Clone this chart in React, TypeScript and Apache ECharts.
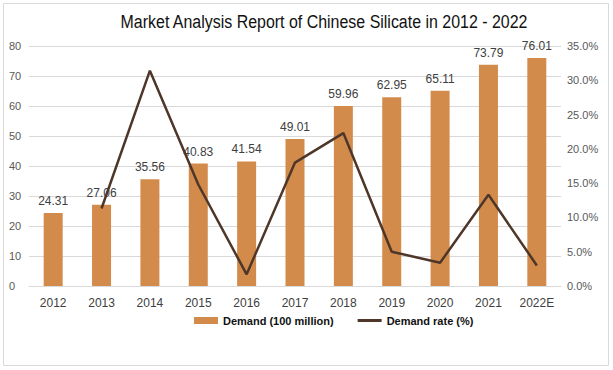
import React, { useEffect, useRef } from "react";
import * as echarts from "echarts";

const categories = ["2012", "2013", "2014", "2015", "2016", "2017", "2018", "2019", "2020", "2021", "2022E"];
const demand = [24.31, 27.06, 35.56, 40.83, 41.54, 49.01, 59.96, 62.95, 65.11, 73.79, 76.01];
const demandRate = [null, 0.113, 0.314, 0.148, 0.017, 0.18, 0.223, 0.05, 0.034, 0.133, 0.03];

export default function App() {
  const ref = useRef<HTMLDivElement>(null);
  useEffect(() => {
    if (!ref.current) return;
    const chart = echarts.init(ref.current, null, { renderer: "svg" });
    const font = "'Liberation Sans', Arial, sans-serif";
    chart.setOption({
      animation: false,
      backgroundColor: "#fff",
      graphic: [
        {
          type: "rect",
          shape: { x: 3.5, y: 3.5, width: 605, height: 362 },
          style: { fill: "none", stroke: "#d9d9d9", lineWidth: 1 },
          silent: true,
        },
        {
          type: "text",
          x: 324,
          y: 22,
          scaleX: 0.84,
          style: {
            text: "Market Analysis Report of Chinese Silicate in 2012 - 2022",
            fontFamily: font,
            fontSize: 19,
            fill: "#111",
            align: "center",
            verticalAlign: "middle",
          },
        },
      ],
      grid: { left: 29, right: 52, top: 46, bottom: 84 },
      legend: {
        bottom: 39,
        left: 189,
        itemGap: 24,
        itemWidth: 24,
        itemHeight: 7,
        textStyle: { fontFamily: font, fontSize: 11, fontWeight: "bold", color: "#111" },
        data: [
          { name: "Demand (100 million)", icon: "rect" },
          { name: "Demand rate (%)", icon: "path://M0,0 L24,0 L24,3 L0,3 Z" },
        ],
      },
      xAxis: {
        type: "category",
        data: categories,
        axisTick: { show: false },
        axisLine: { lineStyle: { color: "#d9d9d9" } },
        axisLabel: { color: "#404040", fontSize: 12, fontFamily: font, margin: 11 },
      },
      yAxis: [
        {
          type: "value",
          min: 0,
          max: 80,
          interval: 10,
          axisLine: { show: false },
          axisTick: { show: false },
          splitLine: { lineStyle: { color: "#d9d9d9" } },
          axisLabel: { color: "#595959", fontSize: 11, fontFamily: font, margin: 20, align: "left" },
        },
        {
          type: "value",
          min: 0,
          max: 0.35,
          interval: 0.05,
          axisLine: { show: false },
          axisTick: { show: false },
          splitLine: { show: false },
          axisLabel: {
            color: "#595959",
            fontSize: 11,
            fontFamily: font,
            margin: 6,
            formatter: (v: number) => (v * 100).toFixed(1) + "%",
          },
        },
      ],
      series: [
        {
          name: "Demand (100 million)",
          type: "bar",
          data: demand,
          barWidth: 19,
          itemStyle: { color: "#D38B4C" },
          label: {
            show: true,
            position: "top",
            distance: 6,
            color: "#404040",
            fontSize: 12,
            fontFamily: font,
          },
        },
        {
          name: "Demand rate (%)",
          type: "line",
          yAxisIndex: 1,
          data: demandRate,
          symbol: "none",
          lineStyle: { color: "#4E3629", width: 2.5 },
          itemStyle: { color: "#4E3629" },
        },
      ],
    });
    return () => chart.dispose();
  }, []);
  return <div ref={ref} style={{ position: "fixed", left: 0, top: 0, width: 613, height: 370 }} />;
}
